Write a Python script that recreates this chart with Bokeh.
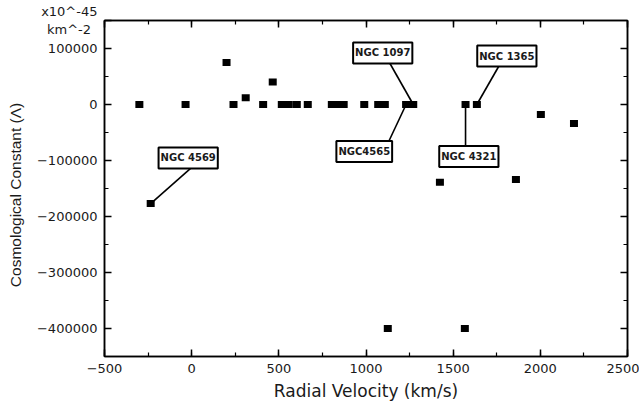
from bokeh.plotting import figure
from bokeh.models import LinearAxis, SingleIntervalTicker, FixedTicker, BasicTickFormatter, Label
from bokeh.embed import file_html
from bokeh.resources import INLINE

# Radial velocity (km/s) and cosmological constant (x10^-45 km^-2)
velocity = [-300, -35, 200, 240, 310, 410, 465, 517, 557, 603, 666, 804, 838, 872,
            990, 1070, 1108, 1230, 1271, 1571, 1636, 1424, 1860, 2003, 2193, 1125, 1567, -235]
lambda_vals = [0, 0, 75000, 0, 12000, 0, 40000, 0, 0, 0, 0, 0, 0, 0,
               0, 0, 0, 0, 0, 0, 0, -139000, -134000, -18000, -34000, -400000, -400000, -177000]

# annotations
label_names = ["NGC 4569", "NGC 1097", "NGC4565", "NGC 1365", "NGC 4321"]
label_x = [-20, 1096, 990, 1808, 1590]
label_y = [-95500, 92000, -84000, 86600, -93000]
leader_x0 = [-6, 1131, 1125, 1774, 1571]
leader_y0 = [-114000, 76800, -69600, 75000, -78600]
leader_target = [27, 18, 17, 20, 19]   # index of the annotated galaxy

x_ticks_interval = 500
y_major_ticks = [-400000, -300000, -200000, -100000, 0, 100000]
y_minor_ticks = [-450000, -350000, -250000, -150000, -50000, 50000]
unit_tick = 150000
unit_text = "x10^-45\nkm^-2\u2002"

p = figure(width=639, height=405, x_range=(-500, 2500), y_range=(-450000, 150000),
           output_backend="svg", toolbar_location=None,
           x_axis_label="Radial Velocity (km/s)",
           y_axis_label="Cosmological Constant (\u039b)\u00a0\u00a0\u00a0",
           min_border_left=104, min_border_right=12, min_border_top=20, min_border_bottom=49)
p.background_fill_color = "white"
p.border_fill_color = "white"
p.outline_line_color = "black"
p.outline_line_width = 1.5
p.xgrid.visible = False
p.ygrid.visible = False

p.xaxis.ticker = SingleIntervalTicker(interval=x_ticks_interval, num_minor_ticks=2)
p.yaxis.ticker = FixedTicker(ticks=y_major_ticks + [unit_tick], minor_ticks=y_minor_ticks)
p.yaxis.formatter = BasicTickFormatter(use_scientific=False)
p.yaxis.major_label_overrides = {unit_tick: unit_text}

def style(ax, labels=True):
    ax.axis_line_color = "black"
    ax.axis_line_width = 1.5
    ax.major_tick_in = 7
    ax.major_tick_out = 0
    ax.minor_tick_in = 4
    ax.minor_tick_out = 0
    ax.major_tick_line_color = "black"
    ax.minor_tick_line_color = "black"
    ax.major_tick_line_width = 1.5
    ax.minor_tick_line_width = 1.2
    if labels:
        ax.major_label_text_font = "DejaVu Sans"
        ax.major_label_text_font_size = "13px"
        ax.major_label_text_color = "#1a1a1a"
    else:
        ax.major_label_text_color = None
        ax.major_label_text_font_size = "0px"
        ax.major_label_standoff = 0

for ax in p.xaxis:
    style(ax)
    ax.major_label_standoff = 7
    ax.axis_label_standoff = 5
    ax.axis_label_text_font = "DejaVu Sans"
    ax.axis_label_text_font_size = "17px"
    ax.axis_label_text_font_style = "normal"
    ax.axis_label_text_color = "#1a1a1a"
for ax in p.yaxis:
    style(ax)
    ax.major_label_standoff = 7
    ax.axis_label_standoff = 10
    ax.axis_label_text_font = "Liberation Sans"
    ax.axis_label_text_font_size = "15.5px"
    ax.axis_label_text_font_style = "normal"
    ax.axis_label_text_color = "#1a1a1a"

top = LinearAxis(ticker=SingleIntervalTicker(interval=x_ticks_interval, num_minor_ticks=2))
style(top, labels=False)
p.add_layout(top, "above")
right = LinearAxis(ticker=FixedTicker(ticks=y_major_ticks, minor_ticks=y_minor_ticks))
style(right, labels=False)
p.add_layout(right, "right")

# leader lines
x0s, y0s, x1s, y1s = [], [], [], []
for i, t in enumerate(leader_target):
    x0s.append(leader_x0[i]); y0s.append(leader_y0[i])
    x1s.append(velocity[t]); y1s.append(lambda_vals[t])
p.segment(x0=x0s, y0=y0s, x1=x1s, y1=y1s, line_color="black", line_width=1.6)

p.rect(x=velocity, y=lambda_vals, width=8, height=7, width_units="screen",
       height_units="screen", fill_color="black", line_color=None)

for name, lx, ly in zip(label_names, label_x, label_y):
    p.add_layout(Label(x=lx, y=ly, text=name, text_align="center", text_baseline="middle",
                       text_font="DejaVu Sans", text_font_size="10px", text_font_style="bold",
                       text_color="#1a1a1a", background_fill_color="white",
                       border_line_color="black", border_line_width=2, padding=(2, 5)))

open("out.html", "w").write(file_html(p, INLINE))
